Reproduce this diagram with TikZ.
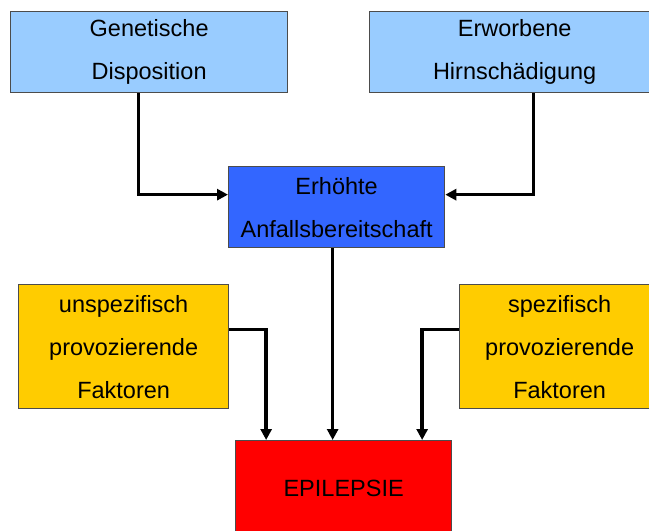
\documentclass[tikz,border=0pt]{standalone}
\usepackage{fontspec}
\setmainfont{Liberation Sans}
\usepackage{tikz}
\usepackage{xcolor}
\usetikzlibrary{arrows.meta}

\definecolor{hellblau}{HTML}{99CCFF}
\definecolor{blau}{HTML}{3366FF}
\definecolor{gelb}{HTML}{FFCC00}
\definecolor{rot}{HTML}{FF0000}

\begin{document}
\begin{tikzpicture}[x=1pt, y=-1pt,
		box/.style={draw=black!70, line width=1.3pt, anchor=north west, inner sep=0pt,
			align=center, font=\fontsize{23.5}{43}\selectfont},
		pfeil/.style={line width=3.5pt, -{Triangle[length=11pt,width=11pt]}}]
				\useasboundingbox (0,0) rectangle (649,531);
				% Ursachen oben
				\node[box, fill=hellblau, minimum width=277pt, minimum height=81pt] (gen) at (10,11) {Genetische\\Disposition};
				\node[box, fill=hellblau, minimum width=290pt, minimum height=81pt] (erw) at (369,11) {Erworbene\\Hirnschädigung};
				
				% Anfallsbereitschaft
				\node[box, fill=blau, minimum width=216pt, minimum height=81pt] (anf) at (228,166) {Erhöhte\\Anfallsbereitschaft};
				
				% Faktoren
				\node[box, fill=gelb, minimum width=210pt, minimum height=124pt] (unsp) at (18,284) {unspezifisch\\provozierende\\Faktoren};
				\node[box, fill=gelb, minimum width=200pt, minimum height=124pt] (spez) at (459,284) {spezifisch\\provozierende\\Faktoren};
				
				% Epilepsie
				\node[box, fill=rot, minimum width=216pt, minimum height=96pt] (epi) at (235,440) {EPILEPSIE};
				
				% Pfeile
				\draw[pfeil] ([xshift=-10.5pt]gen.south) |- ([yshift=12.5pt]anf.west);
				\draw[pfeil] ([xshift=19pt]erw.south) |- ([yshift=12.5pt]anf.east);
				\draw[pfeil] ([xshift=-4pt]anf.south) -- ([xshift=-4pt]anf.south |- epi.north);
				\draw[pfeil] ([yshift=17pt]unsp.east) -| ([xshift=-77.5pt]epi.north);
				\draw[pfeil] ([yshift=17pt]spez.west) -| ([xshift=78.5pt]epi.north);
			\end{tikzpicture}
\end{document}
